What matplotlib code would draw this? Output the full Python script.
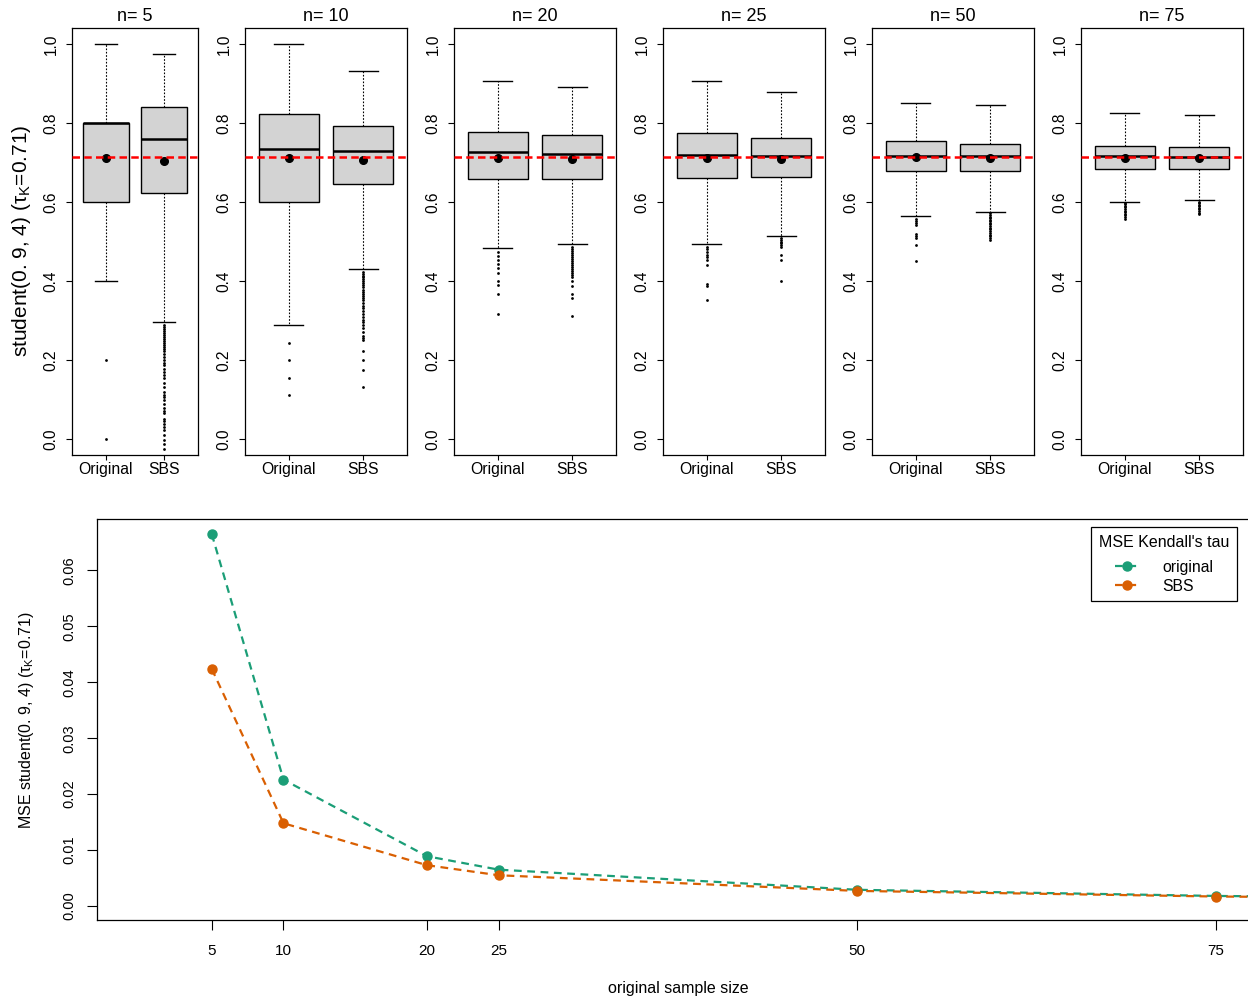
import matplotlib
matplotlib.use("Agg")
import matplotlib.pyplot as plt

plt.rcParams['font.family'] = ['Liberation Sans', 'DejaVu Sans']
plt.rcParams['mathtext.fontset'] = 'custom'
plt.rcParams['mathtext.rm'] = 'Liberation Sans'
plt.rcParams['mathtext.it'] = 'Liberation Sans:italic'

# ---------------- data ----------------
sizes = [5, 10, 20, 25, 50, 75]
groups = ['Original', 'SBS']
tau_true = 0.713

orig_whislo = [0.400, 0.289, 0.484, 0.493, 0.565, 0.601]
orig_q1     = [0.600, 0.600, 0.657, 0.660, 0.678, 0.684]
orig_med    = [0.800, 0.733, 0.727, 0.720, 0.717, 0.715]
orig_q3     = [0.800, 0.822, 0.778, 0.774, 0.753, 0.741]
orig_whishi = [1.000, 1.000, 0.905, 0.907, 0.851, 0.825]
orig_mean   = [0.711, 0.711, 0.712, 0.711, 0.714, 0.712]

sbs_whislo = [0.297, 0.431, 0.494, 0.515, 0.574, 0.605]
sbs_q1     = [0.623, 0.646, 0.659, 0.662, 0.678, 0.684]
sbs_med    = [0.759, 0.730, 0.722, 0.716, 0.715, 0.714]
sbs_q3     = [0.840, 0.793, 0.770, 0.763, 0.746, 0.740]
sbs_whishi = [0.975, 0.931, 0.890, 0.879, 0.844, 0.820]
sbs_mean   = [0.704, 0.706, 0.708, 0.708, 0.711, 0.710]

orig_fliers = [
    [0.200, 0.000],
    [0.244, 0.200, 0.156, 0.111],
    [0.474, 0.463, 0.453, 0.442, 0.432, 0.421, 0.400, 0.389, 0.368, 0.316],
    [0.487, 0.480, 0.473, 0.467, 0.460, 0.453, 0.440, 0.393, 0.387, 0.353],
    [0.558, 0.553, 0.548, 0.541, 0.520, 0.515, 0.510, 0.490, 0.451],
    [0.598, 0.594, 0.590, 0.586, 0.582, 0.578, 0.574, 0.570, 0.566, 0.562, 0.557],
]
sbs_fliers = [
    [0.289, 0.284, 0.279, 0.274, 0.269, 0.264, 0.259, 0.254, 0.249, 0.244,
     0.239, 0.234, 0.229, 0.222, 0.216, 0.209, 0.200, 0.193, 0.187, 0.178,
     0.170, 0.162, 0.154, 0.143, 0.132, 0.120, 0.111, 0.107, 0.098, 0.090,
     0.078, 0.071, 0.065, 0.052, 0.045, 0.039, 0.030, 0.023, 0.010, -0.003,
     -0.012, -0.024],
    [0.424, 0.419, 0.414, 0.409, 0.404, 0.399, 0.394, 0.389, 0.384, 0.378,
     0.373, 0.367, 0.362, 0.356, 0.351, 0.344, 0.338, 0.333, 0.324, 0.316,
     0.309, 0.302, 0.296, 0.289, 0.280, 0.271, 0.262, 0.256, 0.250, 0.224,
     0.200, 0.176, 0.133],
    [0.487, 0.482, 0.477, 0.472, 0.467, 0.462, 0.457, 0.451, 0.446, 0.441,
     0.436, 0.431, 0.426, 0.421, 0.416, 0.411, 0.400, 0.387, 0.367, 0.358, 0.311],
    [0.510, 0.505, 0.500, 0.495, 0.490, 0.485, 0.467, 0.453, 0.400],
    [0.571, 0.567, 0.563, 0.559, 0.555, 0.551, 0.547, 0.543, 0.539, 0.535,
     0.531, 0.527, 0.522, 0.517, 0.513, 0.509, 0.505],
    [0.601, 0.597, 0.593, 0.589, 0.585, 0.581, 0.577, 0.573, 0.570],
]

mse_sizes = [5, 10, 20, 25, 50, 75, 100]
mse_original = [0.0665, 0.0226, 0.0089, 0.0065, 0.0029, 0.0018, 0.0013]
mse_sbs      = [0.0424, 0.0148, 0.0073, 0.0055, 0.0027, 0.0017, 0.0012]

box_yticks = [0.0, 0.2, 0.4, 0.6, 0.8, 1.0]
mse_yticks = [0.00, 0.01, 0.02, 0.03, 0.04, 0.05, 0.06]
mse_xticks = [5, 10, 20, 25, 50, 75]

GREEN = '#1B9E77'
ORANGE = '#D95F02'

# ---------------- figure ----------------
W, H = 1248, 1002
fig = plt.figure(figsize=(W / 100, H / 100), dpi=100)

def rect(l, t, r, b):
    return [l / W, 1 - b / H, (r - l) / W, (b - t) / H]

panel_px = [(72, 198), (245, 407), (454, 616), (663, 825), (872, 1034), (1081, 1243)]

for i, n in enumerate(sizes):
    l, r = panel_px[i]
    ax = fig.add_axes(rect(l, 28, r, 455))
    stats = [
        dict(med=orig_med[i], q1=orig_q1[i], q3=orig_q3[i], whislo=orig_whislo[i],
             whishi=orig_whishi[i], fliers=orig_fliers[i], mean=orig_mean[i]),
        dict(med=sbs_med[i], q1=sbs_q1[i], q3=sbs_q3[i], whislo=sbs_whislo[i],
             whishi=sbs_whishi[i], fliers=sbs_fliers[i], mean=sbs_mean[i]),
    ]
    ax.bxp(stats, positions=[1, 2], widths=0.8, capwidths=0.38,
           showmeans=True, patch_artist=True,
           boxprops=dict(facecolor='#D3D3D3', edgecolor='black', linewidth=1.0),
           medianprops=dict(color='black', linewidth=1.8),
           whiskerprops=dict(color='black', linewidth=0.8, linestyle=(0, (1.5, 1.5))),
           capprops=dict(color='black', linewidth=1.0),
           flierprops=dict(marker='o', markersize=2.0, markerfacecolor='black',
                           markeredgecolor='none', linestyle='none'),
           meanprops=dict(marker='o', markersize=5.5, markerfacecolor='black',
                          markeredgecolor='black'))
    ax.axhline(tau_true, color='red', linewidth=1.8, linestyle=(0, (3, 1.7)), zorder=6)
    ax.set_xticks([1, 2])
    ax.set_xticklabels(groups, fontsize=11.3)
    ax.set_yticks(box_yticks)
    ax.set_yticklabels([f'{v:.1f}' for v in box_yticks], fontsize=11.2,
                       rotation=90, va='center')
    ax.set_xlim(0.415, 2.585)
    ax.set_ylim(-0.04, 1.04)
    ax.tick_params(axis='y', length=4.5, width=0.8, pad=5)
    ax.tick_params(axis='x', length=3.5, width=0.8, pad=1.5)
    for s in ax.spines.values():
        s.set_linewidth(0.9)
    ax.set_title(f'n= {n}', fontsize=13, pad=5)

fig.text(22 / W, 1 - 241 / H, 'student(0. 9, 4) (τ$_{\\mathrm{K}}$=0.71)',
         rotation=90, ha='center', va='center', fontsize=15)

# ---------------- MSE panel ----------------
ax2 = fig.add_axes(rect(97, 519, 1259, 920))
ax2.plot(mse_sizes, mse_original, color=GREEN, linewidth=1.6,
         linestyle=(0, (3.5, 2.5)), marker='o', markersize=6.5, label='original')
ax2.plot(mse_sizes, mse_sbs, color=ORANGE, linewidth=1.6,
         linestyle=(0, (3.5, 2.5)), marker='o', markersize=6.5, label='SBS')
ax2.set_xticks(mse_xticks)
ax2.set_xticklabels([str(v) for v in mse_xticks], fontsize=11)
ax2.set_yticks(mse_yticks)
ax2.set_yticklabels([f'{v:.2f}' for v in mse_yticks], fontsize=10.5,
                    rotation=90, va='center')
ax2.set_xlim(-3, 78)
ax2.set_ylim(-0.0025, 0.0692)
ax2.tick_params(axis='x', length=7, width=0.8, pad=10.5)
ax2.tick_params(axis='y', length=7, width=0.8, pad=8)
for s in ax2.spines.values():
    s.set_linewidth(0.9)

leg = ax2.legend(title="MSE Kendall's tau", loc='upper right',
                 bbox_to_anchor=((1237 - 97) / (1259 - 97), (920 - 527) / (920 - 519)),
                 borderaxespad=0, fontsize=11.3, title_fontsize=11.5,
                 fancybox=False, framealpha=1, edgecolor='black',
                 handlelength=1.6, handletextpad=1.4, labelspacing=0.26,
                 borderpad=0.5)
leg.get_frame().set_linewidth(0.9)
leg._legend_box.sep = 7

fig.text(27 / W, 1 - 720 / H, 'MSE student(0. 9, 4) (τ$_{\\mathrm{K}}$=0.71)',
         rotation=90, ha='center', va='center', fontsize=11.5)
fig.text(678 / W, 1 - 988 / H, 'original sample size',
         ha='center', va='center', fontsize=11.5)

fig.savefig('out.png', dpi=100)
